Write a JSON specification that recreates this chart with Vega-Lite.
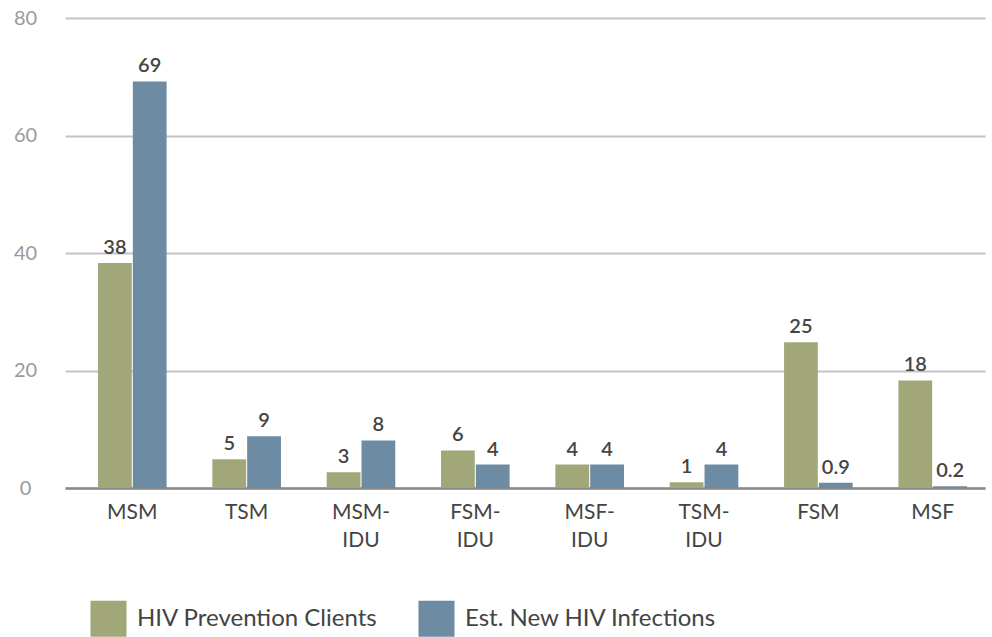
{
  "$schema": "https://vega.github.io/schema/vega-lite/v6.json",
  "autosize": "none",
  "width": 920,
  "height": 470,
  "padding": {"left": 65, "top": 18, "right": 7, "bottom": 149},
  "background": "white",
  "config": {"font": "Lato", "view": {"stroke": null}},
  "data": {"values": [
    {"group": "MSM", "series": "HIV Prevention Clients", "value": 38.3, "label": "38"},
    {"group": "MSM", "series": "Est. New HIV Infections", "value": 69.2, "label": "69"},
    {"group": "TSM", "series": "HIV Prevention Clients", "value": 4.9, "label": "5"},
    {"group": "TSM", "series": "Est. New HIV Infections", "value": 8.8, "label": "9"},
    {"group": "MSM-IDU", "series": "HIV Prevention Clients", "value": 2.7, "label": "3"},
    {"group": "MSM-IDU", "series": "Est. New HIV Infections", "value": 8.1, "label": "8"},
    {"group": "FSM-IDU", "series": "HIV Prevention Clients", "value": 6.4, "label": "6"},
    {"group": "FSM-IDU", "series": "Est. New HIV Infections", "value": 4.0, "label": "4"},
    {"group": "MSF-IDU", "series": "HIV Prevention Clients", "value": 4.0, "label": "4"},
    {"group": "MSF-IDU", "series": "Est. New HIV Infections", "value": 4.0, "label": "4"},
    {"group": "TSM-IDU", "series": "HIV Prevention Clients", "value": 1.0, "label": "1"},
    {"group": "TSM-IDU", "series": "Est. New HIV Infections", "value": 4.0, "label": "4"},
    {"group": "FSM", "series": "HIV Prevention Clients", "value": 24.8, "label": "25"},
    {"group": "FSM", "series": "Est. New HIV Infections", "value": 0.9, "label": "0.9"},
    {"group": "MSF", "series": "HIV Prevention Clients", "value": 18.3, "label": "18"},
    {"group": "MSF", "series": "Est. New HIV Infections", "value": 0.3, "label": "0.2"}
  ]},
  "encoding": {
    "x": {
      "field": "group", "type": "nominal", "sort": null,
      "scale": {"paddingInner": 0.4, "paddingOuter": 0.223, "align": 0.647},
      "axis": {
        "title": null, "labelAngle": 0, "ticks": false,
        "domainColor": "#8a8a8a", "domainWidth": 2.5,
        "labelFontSize": 21, "labelColor": "#444444", "labelPadding": 13,
        "labelBaseline": "top", "labelLineHeight": 28,
        "labelExpr": "indexof(datum.value,'-') > 0 ? [substring(datum.value,0,indexof(datum.value,'-')+1), substring(datum.value,indexof(datum.value,'-')+1)] : datum.value"
      }
    },
    "xOffset": {"field": "series", "type": "nominal", "sort": ["HIV Prevention Clients", "Est. New HIV Infections"], "scale": {"paddingInner": 0.03}},
    "y": {
      "field": "value", "type": "quantitative",
      "scale": {"domain": [0, 80], "nice": false},
      "axis": {
        "title": null, "values": [0, 20, 40, 60, 80], "ticks": false, "domain": false,
        "gridColor": "#c4c4c8", "gridWidth": 2,
        "labelFontSize": 20, "labelColor": "#9a9a9a", "labelAlign": "center", "labelPadding": 40
      }
    }
  },
  "layer": [
    {
      "mark": {"type": "bar"},
      "encoding": {
        "color": {
          "field": "series", "type": "nominal",
          "sort": ["HIV Prevention Clients", "Est. New HIV Infections"],
          "scale": {"domain": ["HIV Prevention Clients", "Est. New HIV Infections"], "range": ["#a2a77a", "#6d8ba3"]},
          "legend": {
            "title": null, "orient": "none", "direction": "horizontal",
            "legendX": 25, "legendY": 582, "padding": 0,
            "symbolType": "square", "symbolSize": 1300, "symbolStrokeWidth": 0,
            "labelFontSize": 24, "labelColor": "#444444", "labelOffset": 10,
            "columnPadding": 40, "labelLimit": 400
          }
        }
      }
    },
    {
      "mark": {"type": "text", "baseline": "alphabetic", "dy": -9, "fontSize": 20, "color": "#444444", "fontWeight": 600},
      "encoding": {"text": {"field": "label"}}
    }
  ]
}
